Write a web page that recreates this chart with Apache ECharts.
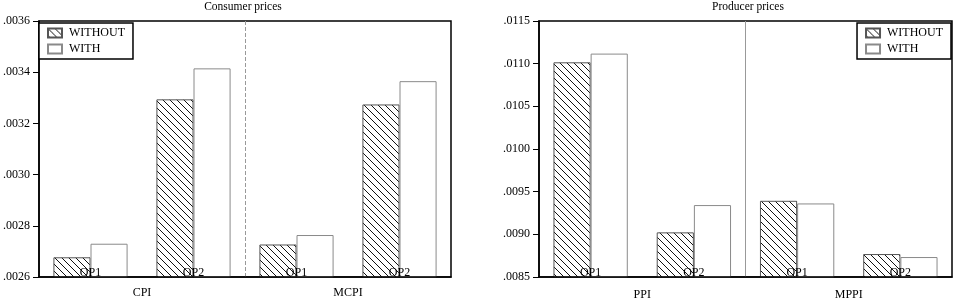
<!DOCTYPE html>
<html>
<head>
<meta charset="utf-8">
<script src="https://cdn.jsdelivr.net/npm/echarts@6/dist/echarts.min.js"></script>
<style>
html,body{margin:0;padding:0;background:#fff;}
#chart{width:957px;height:302px;}
</style>
</head>
<body>
<div id="chart"></div>
<script>
// ---- data ----
const categories = ['OP1', 'OP2', 'OP1', 'OP2'];
const consumerGroups = ['CPI', 'MCPI'];
const producerGroups = ['PPI', 'MPPI'];
const seriesNames = ['WITHOUT', 'WITH'];
const consumerWithout = [0.002677, 0.003294, 0.002727, 0.003274];
const consumerWith = [0.002730, 0.003415, 0.002764, 0.003365];
const producerWithout = [0.011016, 0.009023, 0.009393, 0.008769];
const producerWith = [0.011118, 0.009343, 0.009362, 0.008734];
const titles = ['Consumer prices', 'Producer prices'];

// ---- hatch pattern ----
function makeHatch() {
  const s = 7;
  const c = document.createElement('canvas');
  c.width = s; c.height = s;
  const ctx = c.getContext('2d');
  ctx.fillStyle = '#fff';
  ctx.fillRect(0, 0, s, s);
  ctx.strokeStyle = '#111';
  ctx.lineWidth = 1;
  ctx.beginPath();
  ctx.moveTo(-1, -1); ctx.lineTo(s + 1, s + 1);
  ctx.moveTo(-1, s - 1); ctx.lineTo(1, s + 1);
  ctx.moveTo(s - 1, -1); ctx.lineTo(s + 1, 1);
  ctx.stroke();
  return c;
}
const hatch = { image: makeHatch(), repeat: 'repeat' };

const FONT = 'Liberation Serif';
const fmt = v => v.toFixed(4).replace(/^0/, '');

const chart = echarts.init(document.getElementById('chart'), null, { renderer: 'canvas' });

function yAxis(grid, min, max, interval) {
  return {
    type: 'value', gridIndex: grid, min: min, max: max, interval: interval,
    axisLine: { show: true, lineStyle: { color: '#000', width: 1.5 } },
    axisTick: { show: true, length: 6, lineStyle: { color: '#000', width: 1 } },
    axisLabel: { formatter: fmt, color: '#000', fontFamily: FONT, fontSize: 12, margin: 9 },
    splitLine: { show: false }
  };
}
function innerX(grid) {
  return {
    type: 'category', gridIndex: grid, data: categories, position: 'bottom', z: 10,
    axisLine: { show: true, onZero: false, lineStyle: { color: '#000', width: 1.5 } },
    axisTick: { show: false },
    axisLabel: { inside: true, margin: -2, interval: 0, color: '#000', fontFamily: FONT, fontSize: 12 },
    splitLine: { show: false }
  };
}
function groupX(grid, data, dashed, margin) {
  return {
    type: 'category', gridIndex: grid, data: data, position: 'bottom',
    axisLine: { show: false }, axisTick: { show: false },
    axisLabel: { margin: margin, interval: 0, color: '#000', fontFamily: FONT, fontSize: 12 },
    splitLine: { show: true, showMinLine: false, showMaxLine: false,
      lineStyle: { color: '#999', width: 1, type: dashed ? [4, 2] : 'solid' } }
  };
}
function bars(name, data, xi, yi) {
  const hatched = name === 'WITHOUT';
  return {
    name: name, type: 'bar', data: data, xAxisIndex: xi, yAxisIndex: yi,
    barWidth: '36%', barGap: '0%',
    itemStyle: {
      color: hatched ? hatch : '#fff',
      borderColor: hatched ? '#555' : '#8a8a8a',
      borderWidth: 1
    },
    emphasis: { disabled: true },
    animation: false
  };
}
function legend(pos) {
  return Object.assign({
    top: 23, orient: 'vertical', data: seriesNames, icon: 'rect',
    itemWidth: 14, itemHeight: 9, itemGap: 2,
    padding: [3, 8, 3, 8],
    borderColor: '#000', borderWidth: 1.5, backgroundColor: '#fff',
    textStyle: { color: '#000', fontFamily: FONT, fontSize: 12, lineHeight: 14, padding: [0, 0, 0, 2] },
    selectedMode: false
  }, pos);
}

chart.setOption({
  backgroundColor: '#fff',
  animation: false,
  title: [
    { text: titles[0], left: 243, top: 1, padding: 0, textAlign: 'center',
      textStyle: { fontFamily: FONT, fontSize: 11.5, fontWeight: 'normal', color: '#000' } },
    { text: titles[1], left: 748, top: 1, padding: 0, textAlign: 'center',
      textStyle: { fontFamily: FONT, fontSize: 11.5, fontWeight: 'normal', color: '#000' } }
  ],
  legend: [legend({ left: 39 }), legend({ right: 6 })],
  grid: [
    { left: 37, right: 506, top: 21, bottom: 25, show: true, borderColor: '#000', borderWidth: 1.5, backgroundColor: 'transparent', containLabel: false },
    { left: 539, right: 5, top: 21, bottom: 25, show: true, borderColor: '#000', borderWidth: 1.5, backgroundColor: 'transparent', containLabel: false }
  ],
  xAxis: [
    innerX(0), groupX(0, consumerGroups, true, 10),
    innerX(1), groupX(1, producerGroups, false, 12)
  ],
  yAxis: [
    yAxis(0, 0.0026, 0.0036, 0.0002),
    yAxis(1, 0.0085, 0.0115, 0.0005)
  ],
  series: [
    bars(seriesNames[0], consumerWithout, 0, 0),
    bars(seriesNames[1], consumerWith, 0, 0),
    bars(seriesNames[0], producerWithout, 2, 1),
    bars(seriesNames[1], producerWith, 2, 1)
  ]
});
</script>
</body>
</html>
